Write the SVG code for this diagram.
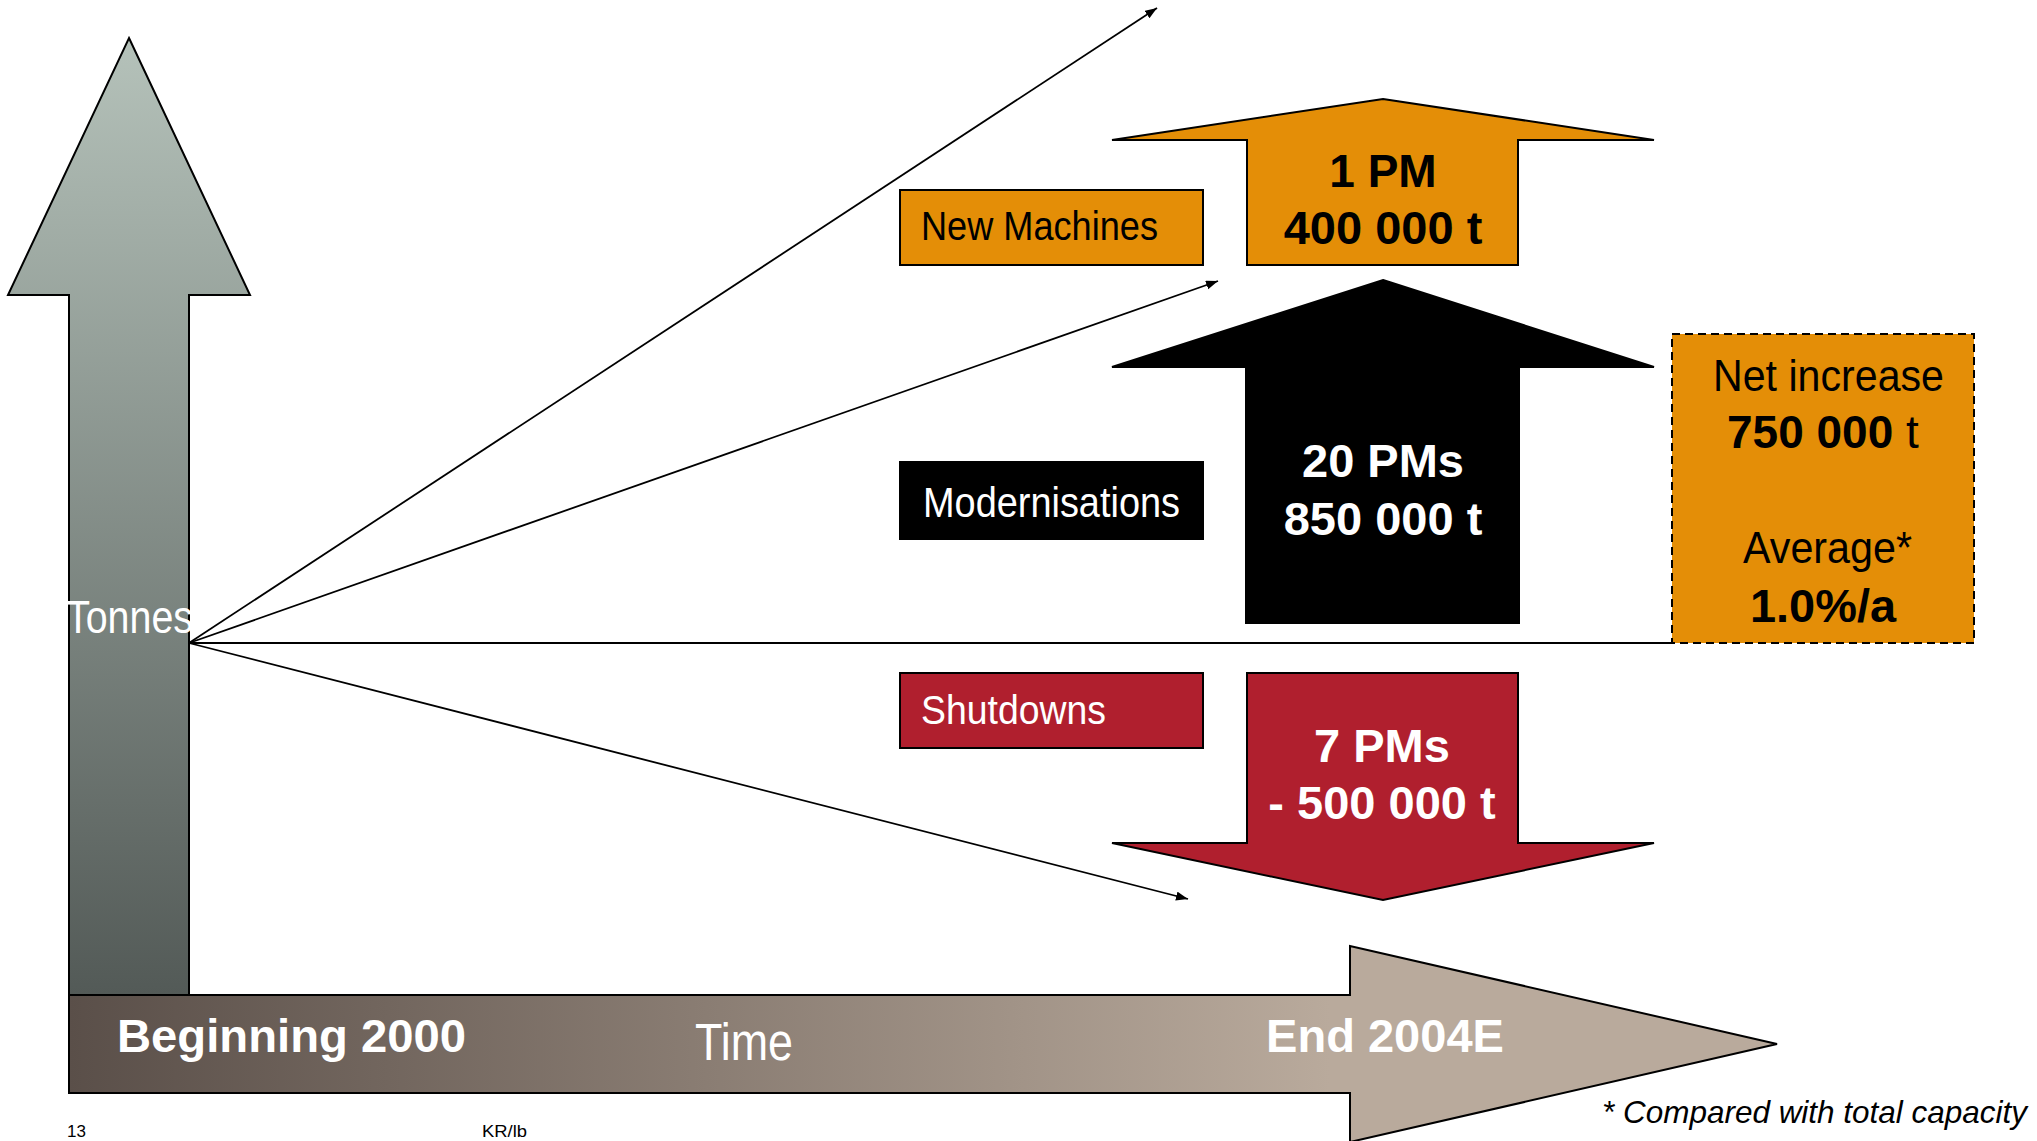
<svg xmlns="http://www.w3.org/2000/svg" width="2037" height="1141" viewBox="0 0 2037 1141">
<defs>
<linearGradient id="gV" gradientUnits="userSpaceOnUse" x1="0" y1="38" x2="0" y2="995">
<stop offset="0" stop-color="#b5c2ba"/>
<stop offset="1" stop-color="#535a57"/>
</linearGradient>
<linearGradient id="gH" gradientUnits="userSpaceOnUse" x1="69" y1="0" x2="1330" y2="0">
<stop offset="0" stop-color="#5a4f49"/>
<stop offset="1" stop-color="#b9aa9c"/>
</linearGradient>
<marker id="ah" markerUnits="userSpaceOnUse" markerWidth="14" markerHeight="10" refX="12" refY="4.5" orient="auto">
<path d="M0,0 L12,4.5 L0,9 z" fill="#000"/>
</marker>
<style>
.sh{stroke:#000;stroke-width:2;stroke-linejoin:miter}
.or{fill:#e48e07}
.rd{fill:#b01f2e}
.bk{fill:#000}
.reg{font-family:"Liberation Sans",Arial,sans-serif;font-weight:normal}
.bold{font-family:"Liberation Sans",Arial,sans-serif;font-weight:bold}
.w{fill:#fff}
.k{fill:#000}
.ln{stroke:#000;stroke-width:1.8;fill:none}
</style>
</defs>
<rect width="2037" height="1141" fill="#fff"/>

<g id="axis-tonnes">
<polygon class="sh" fill="url(#gV)" points="129,38 250,295 189,295 189,1000 69,1000 69,295 8,295"/>
<text class="reg w" x="66" y="633" font-size="47" textLength="127" lengthAdjust="spacingAndGlyphs">Tonnes</text>
</g>

<g id="axis-time">
<polygon class="sh" fill="url(#gH)" points="69,995 1350,995 1350,946 1777,1044 1350,1142 1350,1093 69,1093"/>
<text class="bold w" x="117" y="1052" font-size="47" textLength="349" lengthAdjust="spacingAndGlyphs">Beginning 2000</text>
<text class="reg w" x="695" y="1060" font-size="51" textLength="98" lengthAdjust="spacingAndGlyphs">Time</text>
<text class="bold w" x="1266" y="1052" font-size="47" textLength="238" lengthAdjust="spacingAndGlyphs">End 2004E</text>
</g>

<g id="connectors">
<line class="ln" x1="189" y1="643" x2="1157" y2="8" marker-end="url(#ah)"/>
<line class="ln" x1="189" y1="643" x2="1218" y2="281" marker-end="url(#ah)"/>
<line class="ln" x1="189" y1="643" x2="1672" y2="643"/>
<line class="ln" x1="189" y1="643" x2="1188" y2="899" marker-end="url(#ah)"/>
</g>

<g id="new-machines-label">
<rect class="sh or" x="900" y="190" width="303" height="75"/>
<text class="reg k" x="921" y="240" font-size="41" textLength="237" lengthAdjust="spacingAndGlyphs">New Machines</text>
</g>

<g id="new-machines-arrow">
<polygon class="sh or" points="1383,99 1654,140 1518,140 1518,265 1247,265 1247,140 1112,140"/>
<text class="bold k" x="1383" y="187" font-size="46" text-anchor="middle">1 PM</text>
<text class="bold k" x="1383" y="244" font-size="47" text-anchor="middle">400 000 t</text>
</g>

<g id="modernisations-label">
<rect class="sh bk" x="900" y="462" width="303" height="77"/>
<text class="reg w" x="923" y="517" font-size="42" textLength="257" lengthAdjust="spacingAndGlyphs">Modernisations</text>
</g>

<g id="modernisations-arrow">
<polygon class="sh bk" points="1383,280 1654,367 1519,367 1519,623 1246,623 1246,367 1112,367"/>
<text class="bold w" x="1383" y="477" font-size="47" text-anchor="middle">20 PMs</text>
<text class="bold w" x="1383" y="535" font-size="47" text-anchor="middle">850 000 t</text>
</g>

<g id="shutdowns-label">
<rect class="sh rd" x="900" y="673" width="303" height="75"/>
<text class="reg w" x="921" y="724" font-size="41" textLength="185" lengthAdjust="spacingAndGlyphs">Shutdowns</text>
</g>

<g id="shutdowns-arrow">
<polygon class="sh rd" points="1247,673 1518,673 1518,843 1654,843 1383,900 1112,843 1247,843"/>
<text class="bold w" x="1382" y="762" font-size="47" text-anchor="middle">7 PMs</text>
<text class="bold w" x="1382" y="819" font-size="47" text-anchor="middle">- 500 000 t</text>
</g>

<g id="net-increase">
<rect class="or" x="1672" y="334" width="302" height="309" stroke="#000" stroke-width="2" stroke-dasharray="8,5"/>
<text class="reg k" x="1713" y="391" font-size="45" textLength="231" lengthAdjust="spacingAndGlyphs">Net increase</text>
<text class="k" x="1727" y="448" font-family="Liberation Sans, Arial, sans-serif" font-size="46"><tspan font-weight="bold">750 000</tspan><tspan font-weight="normal"> t</tspan></text>
<text class="reg k" x="1743" y="563" font-size="45" textLength="169" lengthAdjust="spacingAndGlyphs">Average*</text>
<text class="bold k" x="1750" y="622" font-size="47" textLength="146" lengthAdjust="spacingAndGlyphs">1.0%/a</text>
</g>

<g id="footer">
<text class="reg k" x="1602" y="1123" font-size="32" font-style="italic" textLength="425" lengthAdjust="spacingAndGlyphs">* Compared with total capacity</text>
<text class="reg k" x="67" y="1137" font-size="17">13</text>
<text class="reg k" x="482" y="1137" font-size="17" textLength="45" lengthAdjust="spacingAndGlyphs">KR/lb</text>
</g>
</svg>
